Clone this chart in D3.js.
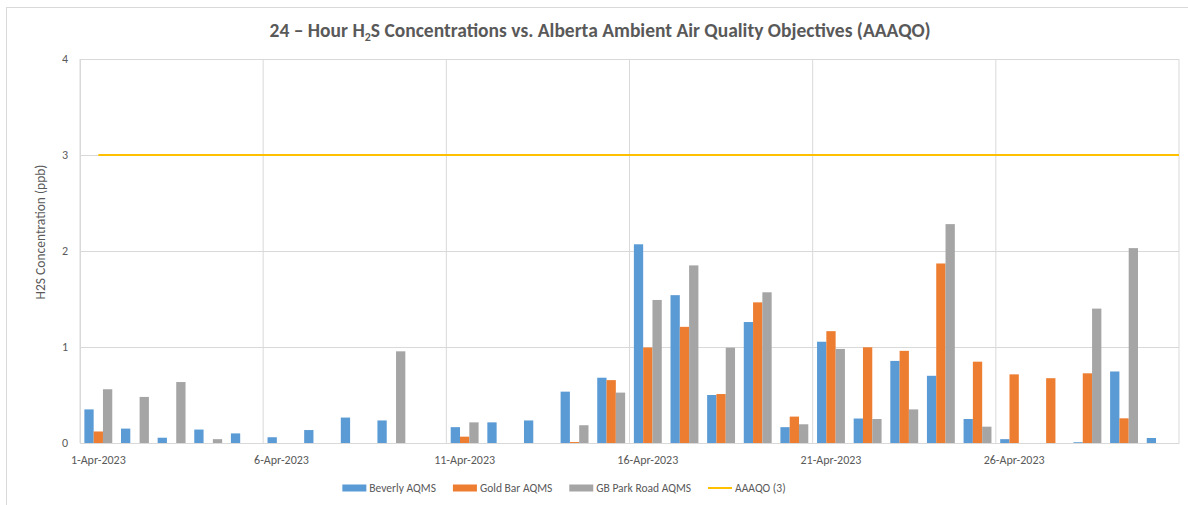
<!DOCTYPE html>
<html><head><meta charset="utf-8">
<script src="https://cdn.jsdelivr.net/npm/d3@7"></script>
<style>
html,body{margin:0;padding:0;background:#fff;}
svg{display:block;font-family:Carlito,Calibri,Lato,"Open Sans",sans-serif;}
</style></head>
<body>
<svg id="chart" width="1188" height="505"></svg>
<script>
const days = d3.range(1, 31).map(d => `${d}-Apr-2023`);
const tickLabels = ["1-Apr-2023","6-Apr-2023","11-Apr-2023","16-Apr-2023","21-Apr-2023","26-Apr-2023"];
const beverly = [0.35,0.15,0.055,0.14,0.10,0.06,0.135,0.265,0.235,null,0.165,0.215,0.235,0.535,0.68,2.07,1.54,0.50,1.26,0.165,1.055,0.255,0.855,0.70,0.25,0.04,null,0.008,0.745,0.052];
const goldBar = [0.12,null,null,null,null,null,null,null,null,null,0.066,null,null,0.01,0.655,0.995,1.21,0.51,1.465,0.275,1.165,0.997,0.96,1.87,0.847,0.715,0.675,0.726,0.257,null];
const gbPark  = [0.56,0.48,0.635,0.04,null,null,null,null,0.955,null,0.215,null,null,0.185,0.525,1.49,1.85,0.993,1.57,0.195,0.98,0.25,0.35,2.28,0.17,null,null,1.40,2.03,null];
const aaaqo = 3;
const seriesNames = ["Beverly AQMS","Gold Bar AQMS","GB Park Road AQMS","AAAQO (3)"];
const colors = ["#5B9BD5","#ED7D31","#A5A5A5","#FFC000"];
const yTicks = [0,1,2,3,4];

const svg = d3.select("#chart");
const M = {left:80, right:1179, top:59, bottom:443};
const txt = "#595959", grid = "#D9D9D9";

// outer chart border
svg.append("rect").attr("x",6.5).attr("y",7.5).attr("width",1190).attr("height",510)
  .attr("fill","none").attr("stroke","#D9D9D9");

const x = d3.scaleBand().domain(days).range([M.left, M.right]).paddingInner(0).paddingOuter(0);
const xIn = d3.scaleBand().domain([0,1,2]).range([0, x.bandwidth()]).paddingOuter(0.47).paddingInner(0);
const y = d3.scaleLinear().domain([0,4]).range([M.bottom, M.top]);

// horizontal gridlines
svg.append("g").selectAll("line").data(yTicks).join("line")
  .attr("x1",M.left).attr("x2",M.right).attr("y1",d=>y(d)+0.5).attr("y2",d=>y(d)+0.5)
  .attr("stroke",grid).attr("stroke-width",1);
// vertical gridlines at tick label days
svg.append("g").selectAll("line").data(tickLabels.concat(["end"])).join("line")
  .attr("x1",d=> d==="end" ? M.right : x(d)).attr("x2",d=> d==="end" ? M.right : x(d))
  .attr("y1",M.top).attr("y2",M.bottom).attr("stroke",grid).attr("stroke-width",1);

// y axis labels
const yAxis = d3.axisLeft(y).tickValues(yTicks).tickSize(0).tickPadding(12).tickFormat(d3.format("d"));
const yg = svg.append("g").attr("transform",`translate(${M.left},0)`).call(yAxis);
yg.select(".domain").remove();
yg.selectAll("text").attr("fill",txt).style("font-size","12px").style("font-family","Carlito,Calibri,Lato,sans-serif");

// x axis labels
const xAxis = d3.axisBottom(x).tickValues(tickLabels).tickSize(0).tickPadding(12);
const xg = svg.append("g").attr("transform",`translate(0,${M.bottom})`).call(xAxis);
xg.select(".domain").attr("stroke","#D9D9D9");
xg.selectAll("text").attr("fill",txt).style("font-size","12px").style("font-family","Carlito,Calibri,Lato,sans-serif");

// left axis line
svg.append("line").attr("x1",M.left+0.5).attr("x2",M.left+0.5).attr("y1",M.top).attr("y2",M.bottom).attr("stroke","#D9D9D9");

// bars
const seriesData = [beverly, goldBar, gbPark];
seriesData.forEach((vals, si) => {
  svg.append("g").selectAll("rect")
    .data(vals.map((v,i)=>({day:days[i], v})).filter(d=>d.v!=null))
    .join("rect")
    .attr("x", d=> x(d.day)+xIn(si))
    .attr("width", xIn.bandwidth())
    .attr("y", d=> y(d.v))
    .attr("height", d=> y(0)-y(d.v))
    .attr("fill", colors[si]);
});

// AAAQO line
svg.append("line")
  .attr("x1", x(days[0])+x.bandwidth()/2).attr("x2", M.right)
  .attr("y1", y(aaaqo)).attr("y2", y(aaaqo))
  .attr("stroke", colors[3]).attr("stroke-width", 2);

// title
const title = svg.append("text").attr("x",600).attr("y",37).attr("text-anchor","middle")
  .attr("fill",txt).style("font-size","19.5px").style("font-weight","bold");
title.append("tspan").text("24 \u2013 Hour H");
title.append("tspan").attr("dy",4).style("font-size","12px").text("2");
title.append("tspan").attr("dy",-4).text("S Concentrations vs. Alberta Ambient Air Quality Objectives (AAAQO)");

// y axis title
svg.append("text").attr("transform",`translate(45,232) rotate(-90)`)
  .attr("text-anchor","middle").attr("fill",txt).style("font-size","13.5px")
  .text("H2S Concentration (ppb)");

// legend (laid out from measured text widths, centred)
const lg = svg.append("g");
const items = seriesNames.map((n,i)=>{
  const g = lg.append("g");
  if (i<3) g.append("rect").attr("x",0).attr("y",-3.5).attr("width",24).attr("height",7).attr("fill",colors[i]);
  else g.append("line").attr("x1",0).attr("x2",24).attr("y1",0).attr("y2",0).attr("stroke",colors[i]).attr("stroke-width",2);
  const t = g.append("text").attr("x",27).attr("y",4).attr("fill",txt).style("font-size","11.5px").text(n);
  return {g, w: 27 + t.node().getComputedTextLength()};
});
const gap = 17;
const total = d3.sum(items, d=>d.w) + gap*(items.length-1);
let cx = 564 - total/2;
items.forEach(it=>{ it.g.attr("transform",`translate(${cx},488)`); cx += it.w + gap; });
</script>
</body></html>
